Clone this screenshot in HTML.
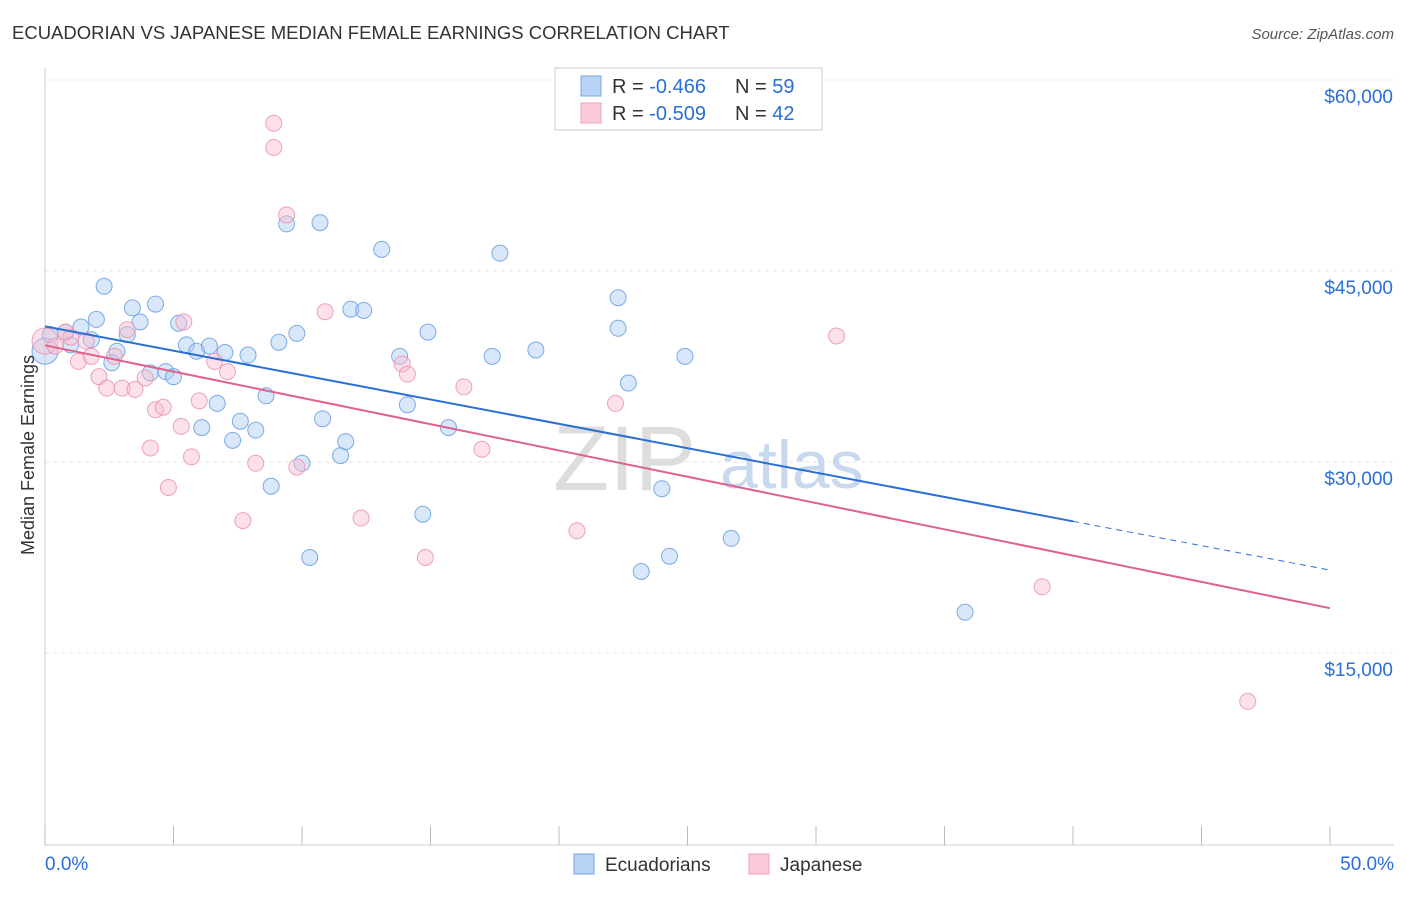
<!DOCTYPE html>
<html><head><meta charset="utf-8"><style>
body{margin:0;background:#fff;font-family:"Liberation Sans",sans-serif}
svg text{font-family:"Liberation Sans",sans-serif}
</style></head><body>
<svg id="c" width="1406" height="892">
<text x="12" y="39" font-size="18.5" fill="#333">ECUADORIAN VS JAPANESE MEDIAN FEMALE EARNINGS CORRELATION CHART</text>
<text x="1394" y="39" font-size="15" fill="#555" text-anchor="end" font-style="italic">Source: ZipAtlas.com</text>
<g id="grid"></g>
<text x="553" y="490" font-size="92" fill="#ddd" font-family="Liberation Serif">ZIP</text>
<text x="720" y="488" font-size="68" fill="#c8d8ee">atlas</text>
<g id="marks"></g>
<text x="34" y="455" font-size="18" fill="#333" text-anchor="middle" transform="rotate(-90 34 455)">Median Female Earnings</text>
<g>
<rect x="555" y="68" width="267" height="62" fill="#fff" stroke="#ccc"/>
<rect x="581" y="76" width="20" height="20" fill="#b9d3f4" stroke="#7aa6e0"/>
<rect x="581" y="103" width="20" height="20" fill="#fbcad8" stroke="#eea0b8"/>
<text x="612" y="93" font-size="20" fill="#333">R = <tspan fill="#2a6fd6">-0.466</tspan></text>
<text x="735" y="93" font-size="20" fill="#333">N = <tspan fill="#2a6fd6">59</tspan></text>
<text x="612" y="120" font-size="20" fill="#333">R = <tspan fill="#2a6fd6">-0.509</tspan></text>
<text x="735" y="120" font-size="20" fill="#333">N = <tspan fill="#2a6fd6">42</tspan></text>
</g>
<g>
<rect x="574" y="854" width="20" height="20" fill="#b9d3f4" stroke="#7aa6e0"/>
<text x="605" y="871" font-size="19" fill="#333">Ecuadorians</text>
<rect x="749" y="854" width="20" height="20" fill="#fbcad8" stroke="#eea0b8"/>
<text x="780" y="871" font-size="19" fill="#333">Japanese</text>
</g>
</svg>
<script>
const yTicks=[15000,30000,45000,60000];
const yTickLabels=["$15,000","$30,000","$45,000","$60,000"];
const xTickLabels=["0.0%","50.0%"];
const ecuX=[0,0.2,0.8,1.4,2,2.3,2.8,2.6,3.4,3.7,3.2,4.3,4.1,4.7,5,5.2,5.5,5.9,6.4,6.7,6.1,7,7.3,7.6,7.9,8.2,8.6,8.8,9.1,9.4,9.8,10,10.3,10.7,10.8,11.5,11.7,11.9,12.4,13.1,13.8,14.1,14.9,14.7,15.7,17.4,17.7,19.1,22.3,22.3,22.7,23.2,24,24.3,24.9,26.7,35.8,1,1.8];
const ecuY=[38700,40000,40200,40600,41200,43800,38700,37800,42100,41000,40000,42400,37000,37100,36700,40900,39200,38700,39100,34600,32700,38600,31700,33200,38400,32500,35200,28100,39400,48700,40100,29900,22500,48800,33400,30500,31600,42000,41900,46700,38300,34500,40200,25900,32700,38300,46400,38800,40500,42900,36200,21400,27900,22600,38300,24000,18200,39200,39600];
const japX=[0,0.4,1,1.3,1.8,2.1,2.4,2.7,3,3.2,3.5,3.9,4.1,4.3,4.6,4.8,5.3,5.4,5.7,6,6.6,7.1,7.7,8.2,8.9,8.9,9.4,9.8,10.9,12.3,13.9,14.1,14.8,16.3,17,20.7,22.2,30.8,38.8,46.8,0.8,1.6];
const japY=[39500,39100,39800,37900,38300,36700,35800,38300,35800,40400,35700,36600,31100,34100,34300,28000,32800,41000,30400,34800,37900,37100,25400,29900,56600,54700,49400,29600,41800,25600,37700,36900,22500,35900,31000,24600,34600,39900,20200,11200,40200,39500];
const X=v=>45+v*25.7, Y=v=>653-(v-15000)/15000*191;
const ns="http://www.w3.org/2000/svg";
function mk(t,a,p){const e=document.createElementNS(ns,t);for(const k in a)e.setAttribute(k,a[k]);p.appendChild(e);return e;}
const g=document.getElementById('grid');
yTicks.forEach((v,i)=>{
 const l=mk('line',{x1:45,x2:1394,y1:Y(v),y2:Y(v),stroke:'#e4e4e4','stroke-dasharray':'4,4'},g);
 
 
 const t=mk('text',{x:1393,y:Y(v)+23,'font-size':19,fill:'#2a6fd6','text-anchor':'end'},g);t.textContent=yTickLabels[i];
 
 
});
mk('line',{x1:45,x2:45,y1:68,y2:845,stroke:'#ccc'},g);
mk('line',{x1:45,x2:1394,y1:845,y2:845,stroke:'#ccc'},g);
for(let i=0;i<=10;i++){const tk=mk('line',{x1:X(i*5),x2:X(i*5),y1:826,y2:845,stroke:'#bbb'},g);
 
 }
[[0,'start',45],[1,'end',1394]].forEach(([i,a,x])=>{const t=mk('text',{x:x,y:870,'font-size':19,fill:'#2a6fd6','text-anchor':a},g);t.textContent=xTickLabels[i];
 
 });
const m=document.getElementById('marks');
function dots(xs,ys,f,s,name){xs.forEach((x,i)=>{const c=mk('circle',{cx:X(x),cy:Y(ys[i]),r:i==0?13:8,fill:f,'fill-opacity':0.45,stroke:s,'stroke-width':1,'stroke-opacity':0.85},m);
 
 });}
dots(ecuX,ecuY,'#a9c9f2','#6a9ede','ecuadorian-point');
dots(japX,japY,'#f8bcd0','#ea93b2','japanese-point');
function fit(xs,ys){const n=xs.length,mx=xs.reduce((a,b)=>a+b)/n,my=ys.reduce((a,b)=>a+b)/n;let sxy=0,sxx=0;xs.forEach((x,i)=>{sxy+=(x-mx)*(ys[i]-my);sxx+=(x-mx)**2});const b=sxy/sxx;return [my-b*mx,b];}
const [ea,eb]=fit(ecuX,ecuY),[ja,jb]=fit(japX,japY);
let l=mk('line',{x1:X(0),y1:Y(ea),x2:X(40),y2:Y(ea+eb*40),stroke:'#2a6fd6','stroke-width':2},m);


l=mk('line',{x1:X(40),y1:Y(ea+eb*40),x2:X(50),y2:Y(ea+eb*50),stroke:'#2a6fd6','stroke-width':1,'stroke-dasharray':'6,5'},m);


l=mk('line',{x1:X(0),y1:Y(ja),x2:X(50),y2:Y(ja+jb*50),stroke:'#e0608e','stroke-width':2},m);


</script>
</body></html>
